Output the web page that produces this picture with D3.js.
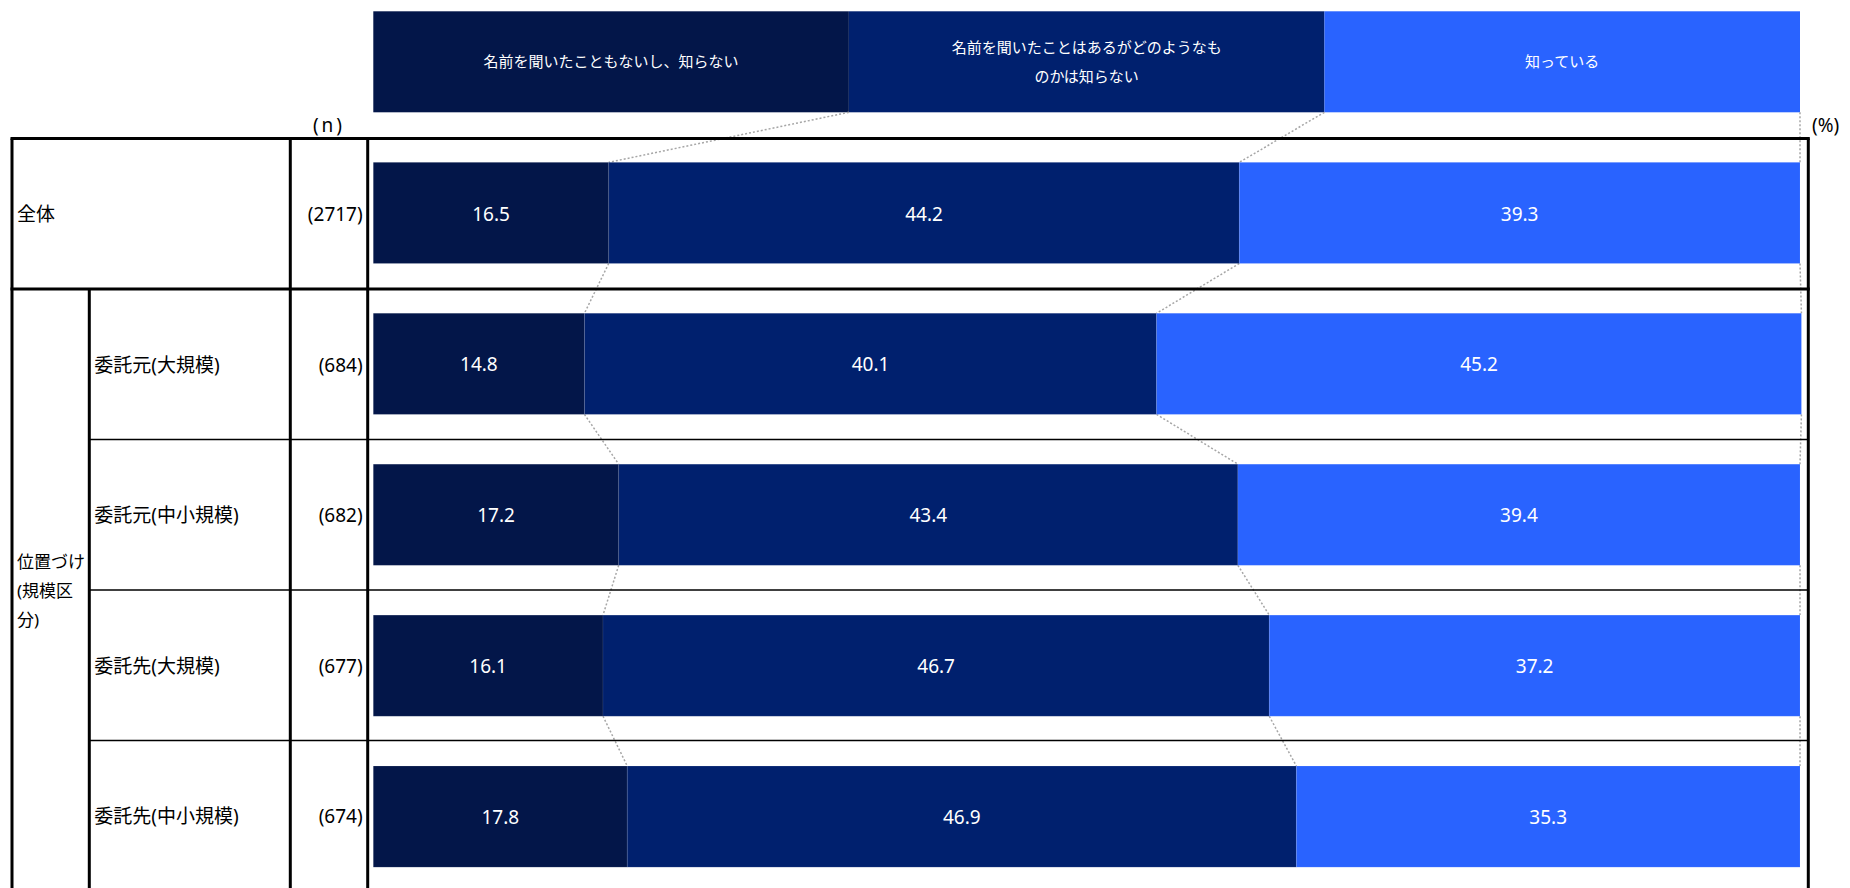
<!DOCTYPE html>
<html lang="ja">
<head>
<meta charset="utf-8">
<script src="https://cdn.jsdelivr.net/npm/d3@7"></script>
<style>
  html, body { margin: 0; padding: 0; background: #ffffff; }
  svg { display: block; }
  text { font-family: "Noto Sans", "Noto Sans CJK JP", sans-serif; }
</style>
</head>
<body>
<script>
// ---- data ----
const categories = ["全体", "委託元(大規模)", "委託元(中小規模)", "委託先(大規模)", "委託先(中小規模)"];
const sampleSizes = [2717, 684, 682, 677, 674];
const groupLabel = "位置づけ(規模区分)";
const seriesNames = [
  "名前を聞いたこともないし、知らない",
  "名前を聞いたことはあるがどのようなものかは知らない",
  "知っている"
];
const neverHeard = [16.5, 14.8, 17.2, 16.1, 17.8];
const heardOnly = [44.2, 40.1, 43.4, 46.7, 46.9];
const knowsIt = [39.3, 45.2, 39.4, 37.2, 35.3];
const seriesColors = ["#031649", "#00206e", "#2963ff"];

// ---- layout ----
const W = 1850, H = 888;
const tableLeft = 12, subColX = 89.3, nColLeft = 290.3, nColRight = 367.7, tableRight = 1808.3;
const tableTop = 138.5, tableBottom = 891;
const legendTop = 11.3, legendBottom = 112.3;

const svg = d3.select("body").append("svg").attr("width", W).attr("height", H);

const x = d3.scaleLinear().domain([0, 100]).range([373.3, 1800]);
const rowBand = d3.scaleBand().domain(categories).range([tableTop, tableBottom]).padding(0);
const barBand = d3.scaleBand().domain(categories).range([tableTop, tableBottom])
  .paddingInner(0.33).paddingOuter(0.158);

const rows = categories.map((c, i) => ({
  category: c, n: sampleSizes[i], s0: neverHeard[i], s1: heardOnly[i], s2: knowsIt[i]
}));
const keys = ["s0", "s1", "s2"];
const stacked = d3.stack().keys(keys)(rows);

// wrap text into lines no wider than maxWidth (character level, for Japanese)
function wrapLines(str, maxWidth, fontSize, family) {
  const probe = svg.append("text").attr("font-size", fontSize).style("font-family", family)
    .attr("visibility", "hidden");
  const lines = [];
  let cur = "";
  for (const ch of Array.from(str)) {
    probe.text(cur + ch);
    if (cur && probe.node().getComputedTextLength() > maxWidth) {
      lines.push(cur);
      cur = ch;
    } else {
      cur += ch;
    }
  }
  if (cur) lines.push(cur);
  probe.remove();
  return lines;
}

// ---- legend header ----
const legendX = d3.range(4).map(k => k * 100 / 3);
const legend = svg.append("g");
legend.selectAll("rect").data(seriesNames).join("rect")
  .attr("x", (d, i) => x(legendX[i]))
  .attr("y", legendTop)
  .attr("width", (d, i) => x(legendX[i + 1]) - x(legendX[i]))
  .attr("height", legendBottom - legendTop)
  .attr("fill", (d, i) => seriesColors[i]);

seriesNames.forEach((name, i) => {
  const lines = wrapLines(name, 276, 15, '"Noto Sans CJK JP"');
  const cx = (x(legendX[i]) + x(legendX[i + 1])) / 2;
  const cy = (legendTop + legendBottom) / 2;
  const lh = 29;
  const t = legend.append("text")
    .attr("text-anchor", "middle")
    .attr("font-size", 15)
    .attr("fill", "#ffffff")
    .style("font-family", '"Noto Sans CJK JP"');
  lines.forEach((ln, j) => {
    t.append("tspan")
      .attr("x", cx)
      .attr("y", cy + (j - (lines.length - 1) / 2) * lh)
      .attr("dy", "0.35em")
      .text(ln);
  });
});

// ---- dotted connectors between legend and bars, and between bars ----
const connectors = svg.append("g")
  .attr("stroke", "#a6a6a6")
  .attr("stroke-width", 1.5)
  .attr("stroke-dasharray", "2,2")
  .attr("fill", "none");

const boundaries = [0, 1, 2]; // right edge of each stacked layer
boundaries.forEach(b => {
  connectors.append("line")
    .attr("x1", x(legendX[b + 1])).attr("y1", legendBottom)
    .attr("x2", x(stacked[b][0][1])).attr("y2", barBand(categories[0]));
  for (let i = 0; i < categories.length - 1; i++) {
    connectors.append("line")
      .attr("x1", x(stacked[b][i][1])).attr("y1", barBand(categories[i]) + barBand.bandwidth())
      .attr("x2", x(stacked[b][i + 1][1])).attr("y2", barBand(categories[i + 1]));
  }
});

// ---- stacked bars ----
const layers = svg.append("g").selectAll("g").data(stacked).join("g")
  .attr("fill", (d, i) => seriesColors[i]);

layers.selectAll("rect").data(d => d).join("rect")
  .attr("x", d => x(d[0]))
  .attr("y", d => barBand(d.data.category))
  .attr("width", d => x(d[1]) - x(d[0]))
  .attr("height", barBand.bandwidth())
  .attr("stroke", "#ffffff")
  .attr("stroke-opacity", 0.08)
  .attr("stroke-width", 1);

layers.selectAll("text").data(d => d).join("text")
  .attr("x", d => (x(d[0]) + x(d[1])) / 2)
  .attr("y", d => barBand(d.data.category) + barBand.bandwidth() / 2 + 1)
  .attr("dy", "0.35em")
  .attr("text-anchor", "middle")
  .attr("font-size", 19)
  .attr("fill", "#ffffff")
  .text(d => d3.format(".1f")(d[1] - d[0]));

// ---- table grid ----
const grid = svg.append("g").attr("stroke", "#000000");
// thick outer and column lines
[[tableLeft, tableTop, tableLeft, tableBottom],
 [nColLeft, tableTop, nColLeft, tableBottom],
 [nColRight, tableTop, nColRight, tableBottom],
 [tableRight, tableTop, tableRight, tableBottom],
 [subColX, rowBand(categories[1]), subColX, tableBottom],
 [tableLeft - 1.5, tableTop, tableRight + 1.5, tableTop],
 [tableLeft - 1.5, rowBand(categories[1]), tableRight + 1.5, rowBand(categories[1])],
 [tableLeft - 1.5, tableBottom, tableRight + 1.5, tableBottom]
].forEach(([x1, y1, x2, y2]) => {
  grid.append("line").attr("x1", x1).attr("y1", y1).attr("x2", x2).attr("y2", y2)
    .attr("stroke-width", 3);
});
// thin separators between sub-rows
categories.slice(2).forEach(c => {
  grid.append("line")
    .attr("x1", subColX).attr("x2", tableRight)
    .attr("y1", rowBand(c)).attr("y2", rowBand(c))
    .attr("stroke-width", 1.3);
});

// ---- table text ----
const rowMid = c => rowBand(c) + rowBand.bandwidth() / 2 + 1;
svg.append("g").selectAll("text").data(rows).join("text")
  .attr("x", (d, i) => i === 0 ? tableLeft + 5 : subColX + 5)
  .attr("y", d => rowMid(d.category))
  .attr("dy", "0.35em")
  .attr("font-size", 19)
  .attr("fill", "#000000")
  .text(d => d.category);

svg.append("g").selectAll("text").data(rows).join("text")
  .attr("x", nColRight - 5)
  .attr("y", d => rowMid(d.category))
  .attr("dy", "0.35em")
  .attr("text-anchor", "end")
  .attr("font-size", 19)
  .attr("fill", "#000000")
  .text(d => `(${d.n})`);

// group label spanning the sub-rows
{
  const lines = wrapLines(groupLabel, 72, 17, '"Noto Sans", "Noto Sans CJK JP"');
  const top = rowBand(categories[1]);
  const cy = (top + tableBottom) / 2 + 1;
  const lh = 28.6;
  const t = svg.append("text").attr("font-size", 17).attr("fill", "#000000");
  lines.forEach((ln, j) => {
    t.append("tspan")
      .attr("x", tableLeft + 5)
      .attr("y", cy + (j - (lines.length - 1) / 2) * lh)
      .attr("dy", "0.35em")
      .text(ln);
  });
}

// column captions
svg.append("text")
  .attr("x", (nColLeft + nColRight) / 2)
  .attr("y", 125)
  .attr("dy", "0.35em")
  .attr("text-anchor", "middle")
  .attr("font-size", 19)
  .attr("letter-spacing", "3px")
  .attr("fill", "#000000")
  .text("(n)");

svg.append("text")
  .attr("x", 1812)
  .attr("y", 125)
  .attr("dy", "0.35em")
  .attr("font-size", 19)
  .attr("fill", "#000000")
  .text("(%)");
</script>
</body>
</html>
